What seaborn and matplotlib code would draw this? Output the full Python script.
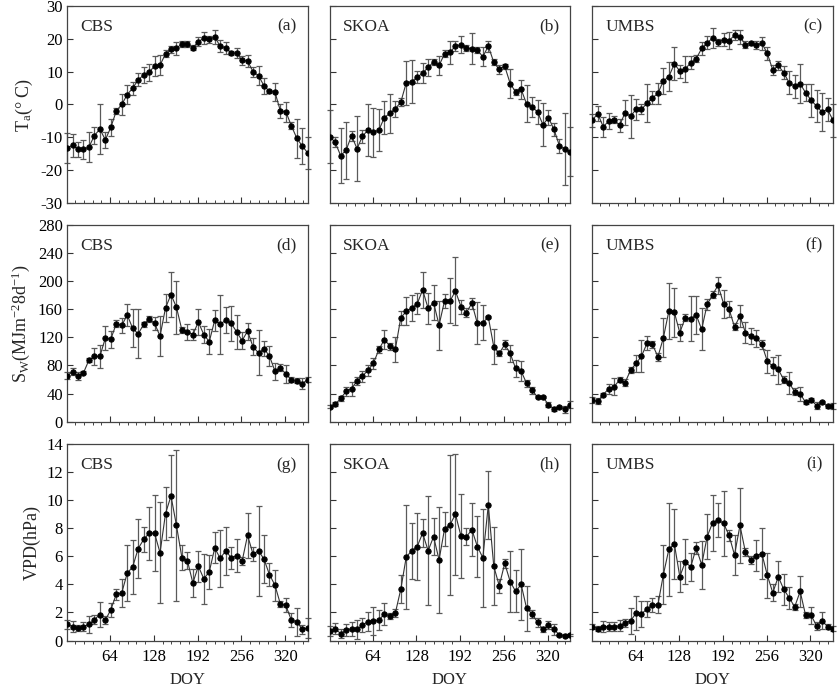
import numpy as np
import pandas as pd
import matplotlib
matplotlib.use('Agg')
import matplotlib.pyplot as plt
from matplotlib.ticker import MultipleLocator, AutoMinorLocator
import seaborn as sns

sns.set_style('ticks')
plt.rcParams['font.family'] = ['Liberation Serif', 'DejaVu Serif']
plt.rcParams['mathtext.fontset'] = 'custom'
plt.rcParams['mathtext.rm'] = 'Liberation Serif'
plt.rcParams['mathtext.it'] = 'Liberation Serif:italic'
plt.rcParams['axes.unicode_minus'] = False

# 8일 간격 DOY
doy = np.arange(1, 354, 8)

sites = ['CBS', 'SKOA', 'UMBS']

# ---- 기온 Ta (°C) ----
ta_cbs = [-13.3, -12.5, -13.7, -13.7, -13.0, -9.5, -7.5, -10.8, -7.0, -2.0, 0.0, 3.0, 5.0, 7.5, 9.0,
          9.8, 11.8, 12.0, 15.5, 16.8, 17.2, 18.5, 18.5, 17.3, 19.2, 20.2, 19.9, 20.6, 17.8, 17.3,
          15.8, 15.7, 13.5, 13.3, 10.0, 8.8, 5.7, 4.0, 3.8, -2.0, -2.2, -6.5, -10.3, -12.7, -14.8]
ta_cbs_err = [4.5, 3.5, 2.2, 2.8, 4.5, 2.5, 7.5, 2.5, 2.5, 1.0, 3.3, 3.0, 2.0, 2.0, 2.5,
              2.5, 3.0, 3.0, 1.0, 1.0, 2.0, 0.8, 1.0, 0.8, 1.3, 1.8, 1.0, 2.2, 1.8, 1.8,
              0.6, 1.5, 1.3, 1.8, 1.5, 2.8, 2.5, 0.5, 2.8, 2.0, 3.0, 1.0, 6.0, 5.5, 5.0]
ta_skoa = [-9.8, -11.5, -15.6, -14.0, -9.5, -13.5, -9.7, -7.8, -8.5, -7.8, -4.0, -2.7, -1.3, 0.7, 6.6,
           7.0, 8.3, 9.6, 11.3, 13.0, 11.9, 15.5, 16.0, 17.8, 18.3, 17.3, 17.0, 16.6, 14.6, 17.8,
           12.9, 10.7, 11.7, 6.4, 3.8, 4.6, 0.2, -0.7, -2.3, -6.2, -4.0, -7.6, -12.6, -13.7, -14.4]
ta_skoa_err = [8.0, 1.5, 8.3, 8.7, 1.5, 10.0, 2.0, 8.0, 7.5, 6.5, 5.0, 6.0, 2.5, 1.2, 6.8,
               6.5, 1.8, 3.0, 2.7, 1.0, 2.8, 1.0, 3.5, 1.5, 2.5, 1.0, 4.7, 1.0, 2.9, 1.7,
               1.0, 1.3, 0.8, 4.3, 1.0, 2.9, 5.6, 3.0, 3.7, 6.6, 2.4, 2.0, 2.2, 11.0, 7.5]
ta_umbs = [-4.8, -2.8, -6.8, -5.1, -4.6, -6.4, -2.5, -3.6, -1.5, -1.5, 0.4, 2.0, 3.4, 7.2, 8.5,
           12.4, 10.2, 10.9, 12.7, 14.0, 17.1, 18.8, 20.3, 19.0, 19.8, 19.5, 21.1, 20.6, 18.3, 18.7,
           18.1, 18.7, 15.6, 10.5, 11.9, 9.7, 6.6, 5.6, 6.3, 3.6, 1.3, -0.5, -2.3, -1.5, -4.8]
ta_umbs_err = [2.0, 2.2, 3.0, 2.5, 1.0, 2.0, 3.8, 6.5, 3.3, 1.5, 5.8, 2.0, 3.3, 4.0, 4.5,
               5.0, 2.0, 4.0, 2.0, 1.0, 2.0, 2.0, 3.0, 1.0, 2.0, 2.5, 1.5, 2.0, 1.0, 0.5,
               1.3, 2.0, 2.0, 1.5, 1.5, 2.0, 3.5, 3.5, 6.0, 2.5, 5.0, 5.0, 5.8, 3.5, 5.0]

# ---- 단파복사 Sw (MJ m-2 8d-1) ----
sw_cbs = [65.7, 71, 65, 69.5, 87.6, 93, 93, 119, 117.6, 139.5, 137, 152, 133, 125, 138.5,
          146.6, 140, 122, 162, 181, 163, 130.5, 128, 124, 142, 124, 114, 144.7, 138.5, 144.7,
          140, 128, 115.5, 129, 106.5, 98, 104, 93.5, 72, 76.7, 68, 60, 58.6, 54.3, 60]
sw_cbs_err = [5, 5, 6, 2, 3, 12, 16, 17, 12, 5, 10, 16, 27, 35, 3,
              4, 9, 28, 20, 32, 38, 4, 11, 8, 18, 12, 18, 15, 42, 18,
              25, 24, 12, 12, 12, 32, 11, 14, 12, 5, 13, 4, 4, 8, 3]
sw_skoa = [21.4, 24.8, 33, 43, 47, 58, 64.8, 73.3, 83, 102.8, 117, 107.6, 102.8, 148, 157,
           162, 168, 187.6, 161.5, 169.5, 137.6, 172, 172, 186, 164, 155.4, 168.7, 140, 141, 149,
           106.7, 97.2, 110, 97.2, 75.8, 72, 54.5, 44.8, 34.8, 34.8, 24.3, 18, 21, 18, 24.3]
sw_skoa_err = [2, 3, 3, 7, 10, 6, 8, 8, 8, 5, 14, 5, 18, 10, 20,
               18, 15, 25, 22, 25, 35, 10, 32, 48, 10, 6, 8, 30, 25, 2,
               25, 4, 6, 12, 12, 14, 5, 5, 1.5, 1.5, 4, 3, 2, 5, 5]
sw_umbs = [30.5, 29, 38.6, 46.7, 49.5, 60, 55.7, 73.3, 82.9, 93.3, 111.4, 110, 92.4, 119.5, 157.6,
           156, 126.7, 148, 146.7, 152, 131.4, 167, 181, 194.3, 168, 160.6, 135, 150.5, 126.7, 122,
           119, 110, 86, 79, 74.3, 60, 55.2, 42.4, 39.5, 27.6, 31, 22.9, 28, 22, 22]
sw_umbs_err = [4, 4, 2, 7, 12, 4, 5, 4, 12, 23, 10, 5, 6, 28, 40,
               35, 12, 5, 32, 27, 30, 8, 5, 12, 20, 12, 5, 15, 15, 12,
               12, 6, 16, 13, 20, 5, 16, 5, 10, 2, 2, 5, 2, 2, 4]

# ---- 포차 VPD (hPa) ----
vpd_cbs = [1.15, 1.0, 0.9, 1.0, 1.15, 1.5, 1.85, 1.45, 2.2, 3.3, 3.4, 4.8, 5.25, 6.55, 7.2,
           7.65, 7.65, 6.25, 9.05, 10.3, 8.2, 5.9, 5.7, 4.1, 5.3, 4.4, 4.9, 6.6, 5.85, 6.4,
           5.9, 6.05, 5.65, 7.5, 6.15, 6.4, 5.8, 4.7, 3.95, 2.6, 2.5, 1.45, 1.35, 0.8, 0.9]
vpd_cbs_err = [0.35, 0.4, 0.2, 0.3, 0.6, 0.3, 0.9, 0.3, 0.5, 0.4, 1.0, 2.0, 1.9, 2.1, 0.9,
               1.9, 2.7, 3.6, 1.9, 2.9, 5.4, 0.9, 0.6, 1.0, 1.1, 1.8, 1.2, 1.1, 2.0, 1.7,
               0.8, 1.2, 0.3, 1.6, 0.5, 3.2, 1.7, 0.8, 1.1, 0.2, 0.5, 0.5, 1.0, 0.3, 0.7]
vpd_skoa = [0.7, 0.85, 0.5, 0.75, 0.85, 0.8, 1.1, 1.35, 1.4, 1.45, 1.9, 1.75, 1.95, 3.65, 5.95,
            6.4, 6.7, 7.65, 6.4, 7.4, 5.75, 7.95, 8.25, 9.0, 7.45, 7.4, 7.9, 6.7, 5.9, 9.65,
            5.3, 3.9, 5.5, 4.2, 3.5, 4.0, 2.3, 1.9, 1.3, 0.8, 1.1, 0.8, 0.4, 0.35, 0.4]
vpd_skoa_err = [0.35, 0.4, 0.3, 0.4, 0.5, 0.7, 0.5, 0.7, 1.0, 0.7, 0.8, 0.2, 0.3, 1.0, 3.7,
                2.0, 2.4, 1.0, 3.9, 1.3, 3.8, 1.2, 5.0, 4.3, 3.0, 0.6, 1.9, 2.2, 3.5, 2.4,
                2.8, 0.5, 0.3, 2.2, 1.5, 2.5, 1.6, 0.3, 0.3, 0.2, 0.3, 0.4, 0.1, 0.1, 0.1]
vpd_umbs = [1.0, 0.85, 1.0, 1.0, 1.0, 1.05, 1.25, 1.4, 1.95, 1.9, 2.25, 2.55, 2.55, 4.7, 6.5,
            6.9, 4.55, 5.6, 5.25, 6.6, 5.4, 7.4, 8.4, 8.6, 8.35, 7.5, 6.1, 8.2, 6.3, 5.75,
            6.05, 6.2, 4.65, 3.4, 4.55, 3.65, 3.05, 2.4, 3.5, 1.8, 1.8, 1.05, 1.4, 1.0, 0.85]
vpd_umbs_err = [0.2, 0.2, 0.4, 0.3, 0.3, 0.4, 0.3, 0.9, 1.2, 0.9, 0.6, 0.5, 0.6, 2.1, 3.3,
                2.5, 1.1, 1.6, 1.0, 0.4, 1.7, 1.6, 2.0, 1.2, 2.3, 0.4, 1.4, 2.7, 0.3, 0.3,
                1.1, 1.8, 1.6, 0.6, 1.1, 1.1, 0.8, 0.2, 1.1, 0.2, 0.6, 0.3, 0.6, 0.2, 0.2]

rows = [
    ([ta_cbs, ta_skoa, ta_umbs], [ta_cbs_err, ta_skoa_err, ta_umbs_err]),
    ([sw_cbs, sw_skoa, sw_umbs], [sw_cbs_err, sw_skoa_err, sw_umbs_err]),
    ([vpd_cbs, vpd_skoa, vpd_umbs], [vpd_cbs_err, vpd_skoa_err, vpd_umbs_err]),
]
ylabels = [r'T$_\mathregular{a}$(° C)',
           r'S$_\mathregular{W}$(MJm$^\mathregular{-2}$8d$^\mathregular{-1}$)',
           'VPD(hPa)']
ylims = [(-30, 30), (0, 280), (0, 14)]
ysteps = [10, 40, 2]
letters = 'abcdefghi'

fig, axes = plt.subplots(3, 3, figsize=(8.38, 6.91), dpi=100, sharex=True, sharey='row')
fig.subplots_adjust(left=0.080, right=0.994, top=0.991, bottom=0.073, wspace=0.091, hspace=0.114)

for r, (vals, errs) in enumerate(rows):
    for c in range(3):
        ax = axes[r, c]
        df = pd.DataFrame({'DOY': doy, 'val': vals[c], 'err': errs[c]})
        ax.errorbar(df['DOY'], df['val'], yerr=df['err'], fmt='none', ecolor='#5a5a5a',
                    elinewidth=0.9, capsize=2.5, capthick=0.9, clip_on=False, zorder=2)
        sns.lineplot(data=df, x='DOY', y='val', ax=ax, color='#333333', linewidth=0.8,
                     marker='o', markersize=3.8, markerfacecolor='black',
                     markeredgecolor='black', zorder=3)
        ax.set_xlim(1, 353)
        ax.set_ylim(*ylims[r])
        ax.yaxis.set_major_locator(MultipleLocator(ysteps[r]))
        ax.set_xticks([64, 128, 192, 256, 320])
        ax.tick_params(direction='in', length=4, width=0.8, labelsize=12, pad=3,
                       colors='#333333', labelcolor='black')
        ax.tick_params(axis='x', pad=6)
        for sp in ax.spines.values():
            sp.set_color('#444444')
            sp.set_linewidth(0.9)
        ax.set_xlabel('DOY' if r == 2 else '', fontsize=12, labelpad=5)
        ax.set_ylabel(ylabels[r] if c == 0 else '', fontsize=13, labelpad=4)
        ax.text(0.055, 0.895, sites[c], transform=ax.transAxes, fontsize=12.5,
                ha='left', va='center')
        ax.text(0.955, 0.895, '(%s)' % letters[r * 3 + c], transform=ax.transAxes,
                fontsize=12.5, ha='right', va='center')

axes[0, 0].xaxis.set_minor_locator(AutoMinorLocator(5))
axes[0, 0].tick_params(axis='x', which='minor', direction='in', length=2, width=0.6)

fig.savefig('out.png', dpi=100)
